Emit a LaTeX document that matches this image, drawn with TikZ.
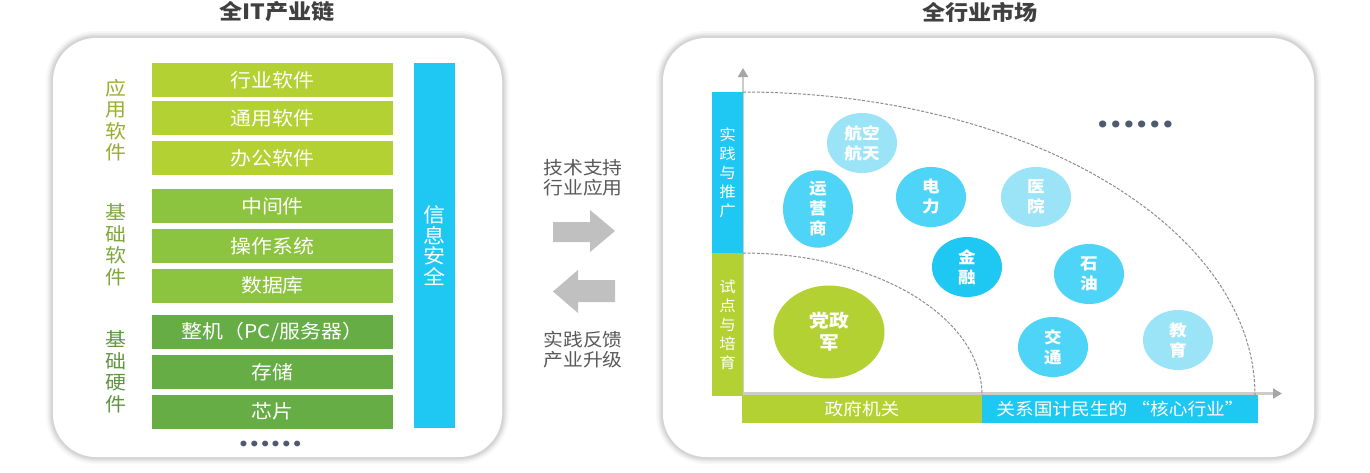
\documentclass[tikz,border=0pt]{standalone}
\usepackage{fontspec}
\setmainfont{Noto Sans CJK SC}[FakeStretch=1.1]
\usetikzlibrary{shapes.geometric,arrows.meta}
\definecolor{g1}{HTML}{B3D133}
\definecolor{g2}{HTML}{8CC43F}
\definecolor{g3}{HTML}{66AD45}
\definecolor{cy}{HTML}{1FC8F2}
\definecolor{bm}{HTML}{4ED4F6}
\definecolor{bl}{HTML}{9BE4F8}
\definecolor{lab1}{HTML}{9AAE2A}
\definecolor{lab2}{HTML}{7EA63C}
\definecolor{lab3}{HTML}{5F9640}
\definecolor{txtg}{HTML}{595959}
\definecolor{ttl}{HTML}{404040}
\definecolor{arrg}{HTML}{C0C0C0}
\definecolor{axg}{HTML}{CCCCCC}
\definecolor{axt}{HTML}{A6A6A6}
\definecolor{dashg}{HTML}{8C8C8C}
\definecolor{dotc}{HTML}{4F5A6E}
\begin{document}
\begin{tikzpicture}[x=1pt,y=-1pt,
  layerbar/.style={draw=none, text=white, inner sep=0pt, minimum width=241pt, minimum height=34pt, font=\fontsize{19}{19}\selectfont},
  grouplab/.style={align=center, inner sep=0pt, font=\fontsize{19}{21.5}\selectfont},
  midtext/.style={align=center, inner sep=0pt, text=txtg, font=\fontsize{18}{20}\selectfont},
  titletext/.style={inner sep=0pt, text=ttl, font=\fontsize{21}{21}\selectfont\bfseries},
  sidebar/.style={draw=none, text=white, inner sep=0pt, align=center, minimum width=31pt, font=\fontsize{15}{19}\selectfont},
  basebar/.style={draw=none, text=white, inner sep=0pt, minimum height=28pt, font=\fontsize{17}{17}\selectfont},
  bubble/.style={ellipse, draw=none, text=white, inner sep=0pt, align=center, minimum width=70pt, minimum height=60pt, font=\fontsize{16}{20}\selectfont\bfseries},
  blockarrow/.style={fill=arrg, draw=none},
  axisline/.style={draw=axg, line width=2.5pt, -{Triangle[length=9pt,width=10pt,color=axt]}},
  zoneline/.style={draw=dashg, line width=1pt, dash pattern=on 3pt off 1.6pt},
  dotstext/.style={inner sep=0pt, text=dotc}
]
\useasboundingbox (0,0) rectangle (1370,472);
\fill[white] (0,0) rectangle (1370,472);

% ---------- panels ----------
\foreach \xa/\xb in {53/502, 663/1314}{
  \draw[black!3, line width=14pt, rounded corners=43pt] (\xa,38) rectangle (\xb,457);
  \draw[black!7, line width=10pt, rounded corners=43pt] (\xa,38) rectangle (\xb,457);
  \draw[black!12, line width=7pt, rounded corners=43pt] (\xa,38) rectangle (\xb,457);
  \draw[black!17, line width=4pt, rounded corners=43pt] (\xa,38) rectangle (\xb,457);
  \fill[white, rounded corners=43pt] (\xa,38) rectangle (\xb,457);
}

% ---------- titles ----------
\node[titletext] (t1) at (277,12) {全IT产业链};
\node[titletext] (t2) at (980,12) {全行业市场};

% ---------- left panel ----------
\node[layerbar, fill=g1] (b1) at (272.5,80) {行业软件};
\node[layerbar, fill=g1] (b2) at (272.5,118) {通用软件};
\node[layerbar, fill=g1] (b3) at (272.5,158) {办公软件};
\node[layerbar, fill=g2] (b4) at (272.5,206) {中间件};
\node[layerbar, fill=g2] (b5) at (272.5,246) {操作系统};
\node[layerbar, fill=g2] (b6) at (272.5,285.5) {数据库};
\node[layerbar, fill=g3] (b7) at (272.5,332) {整机（PC/服务器）};
\node[layerbar, fill=g3] (b8) at (272.5,372) {存储};
\node[layerbar, fill=g3] (b9) at (272.5,411.5) {芯片};

\node[draw=none, fill=cy, text=white, inner sep=0pt, align=center, minimum width=41pt, minimum height=365pt,
      font=\fontsize{20}{20.7}\selectfont] (sec) at (434.5,245.5) {信\\息\\安\\全};

\node[grouplab, text=lab1] (l1) at (116,120) {应\\用\\软\\件};
\node[grouplab, text=lab2] (l2) at (116,245) {基\\础\\软\\件};
\node[grouplab, text=lab3] (l3) at (116,372) {基\\础\\硬\\件};

\node[dotstext, font=\fontsize{26}{26}\selectfont\bfseries] (d1) at (270.5,443.5) {……};

% ---------- middle ----------
\node[midtext] (m1) at (583,178) {技术支持\\行业应用};
\node[midtext] (m2) at (583,350) {实践反馈\\产业升级};
\fill[blockarrow] (553,222) -- (590,222) -- (590,210) -- (615,231) -- (590,252) -- (590,242) -- (553,242) -- cycle;
\fill[blockarrow] (615,280) -- (578,280) -- (578,270) -- (553,291.5) -- (578,313) -- (578,302) -- (615,302) -- cycle;

% ---------- right panel ----------
\coordinate (org) at (743,393.5);
\coordinate (ytip) at (743,68);
\coordinate (xtip) at (1282,393.5);
\draw[axisline] (org) -- (ytip);
\draw[axisline] (org) -- (xtip);

\draw[zoneline] plot[domain=90:0, samples=80] ({743+239*cos(\x)}, {395-142*sin(\x)});
\draw[zoneline] plot[domain=90:0, samples=120] ({743+512*cos(\x)}, {395-303*sin(\x)});

\node[sidebar, fill=cy, minimum height=161pt] (s1) at (727.5,172.5) {实\\践\\与\\推\\广};
\node[sidebar, fill=g1, minimum height=143pt] (s2) at (727.5,324.5) {试\\点\\与\\培\\育};
\node[basebar, fill=g1, minimum width=240pt] (x1) at (862,409) {政府机关};
\node[basebar, fill=cy, minimum width=276pt] (x2) at (1120,409) {关系国计民生的 “核心行业”};

\node[bubble, fill=bl] (c1) at (862,143) {航空\\航天};
\node[bubble, fill=bm] (c2) at (818,209) {运\\营\\商};
\node[bubble, fill=bm] (c3) at (931,197) {电\\力};
\node[bubble, fill=bl] (c4) at (1036,197) {医\\院};
\node[bubble, fill=cy] (c5) at (967,267) {金\\融};
\node[bubble, fill=bm] (c6) at (1089,274) {石\\油};
\node[bubble, fill=bm] (c7) at (1053,347) {交\\通};
\node[bubble, fill=bl] (c8) at (1178,340) {教\\育};
\node[bubble, fill=g1, minimum width=111pt, minimum height=93pt, font=\fontsize{18}{22}\selectfont\bfseries] (c9) at (829,332) {党政\\军};

\node[dotstext, font=\fontsize{31.5}{31.5}\selectfont\bfseries] (d2) at (1135,124) {……};
\end{tikzpicture}
\end{document}
